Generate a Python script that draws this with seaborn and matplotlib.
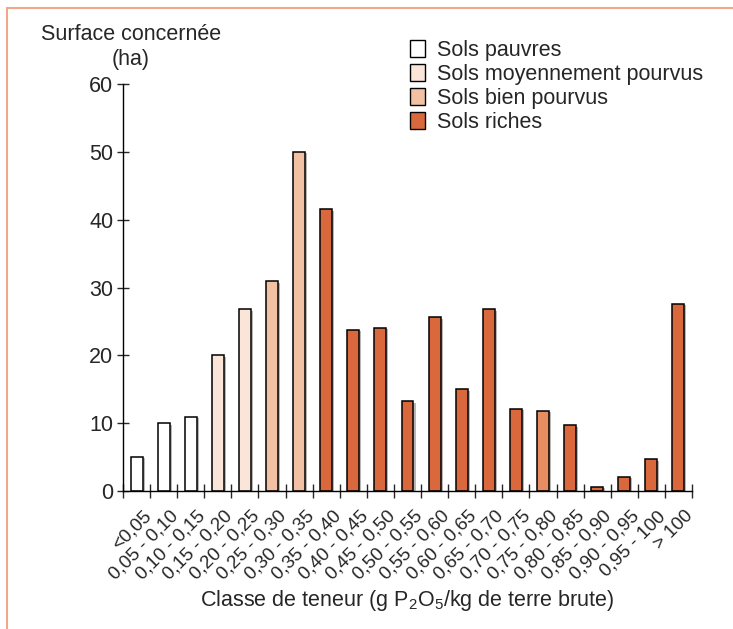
import matplotlib
matplotlib.use('Agg')
import matplotlib.pyplot as plt
import matplotlib.patheffects as pe
import matplotlib.transforms as mtransforms
from matplotlib.lines import Line2D
from matplotlib.patches import Patch
import pandas as pd
import seaborn as sns

# données
classes = ['<0,05', '0,05 - 0,10', '0,10 - 0,15', '0,15 - 0,20', '0,20 - 0,25',
           '0,25 - 0,30', '0,30 - 0,35', '0,35 - 0,40', '0,40 - 0,45', '0,45 - 0,50',
           '0,50 - 0,55', '0,55 - 0,60', '0,60 - 0,65', '0,65 - 0,70', '0,70 - 0,75',
           '0,75 - 0,80', '0,80 - 0,85', '0,85 - 0,90', '0,90 - 0,95', '0,95 - 100',
           '> 100']
surface = [5.0, 10.0, 10.9, 20.0, 26.8, 30.9, 50.0, 41.5, 23.8, 24.1, 13.2,
           25.6, 15.0, 26.8, 12.1, 11.8, 9.7, 0.6, 2.1, 4.7, 27.6]
niveau = ['Sols pauvres'] * 3 + ['Sols moyennement pourvus'] * 2 + \
         ['Sols bien pourvus'] * 2 + ['Sols riches'] * 14
niveaux = ['Sols pauvres', 'Sols moyennement pourvus', 'Sols bien pourvus', 'Sols riches']

couleurs = {'Sols pauvres': '#ffffff', 'Sols moyennement pourvus': '#fbe4d8',
            'Sols bien pourvus': '#f2c1a4', 'Sols riches': '#d9693d'}

df = pd.DataFrame({'classe': classes, 'surface': surface, 'niveau': niveau})

sns.set_style('white')
plt.rcParams['font.family'] = ['Liberation Sans', 'DejaVu Sans']
plt.rcParams['mathtext.fontset'] = 'custom'
plt.rcParams['mathtext.rm'] = 'Liberation Sans'

fig = plt.figure(figsize=(7.33, 6.29), dpi=100)
ax = fig.add_axes([123 / 733, 1 - 491 / 629, 569 / 733, 407 / 629])

sns.barplot(data=df, x='classe', y='surface', hue='niveau', hue_order=niveaux,
            palette=couleurs, saturation=1, dodge=False, width=0.44, edgecolor='black',
            linewidth=1.1, legend=False, ax=ax)

shadow = [pe.SimplePatchShadow(offset=(1.5, -1), shadow_rgbFace='#888888', alpha=0.6),
          pe.Normal()]
for p in ax.patches:
    p.set_path_effects(shadow)
    # la barre 0,75 - 0,80 est d'un orange plus clair
    if abs(p.get_x() + p.get_width() / 2 - 15) < 0.3:
        p.set_facecolor('#e68d62')

ax.set_xlim(-0.5, len(classes) - 0.5)
ax.set_ylim(0, 60)
ax.set_yticks(range(0, 61, 10))
ax.tick_params(axis='y', direction='inout', length=8, width=1, labelsize=15.5, pad=3, left=True)

ax.set_xticks([i - 0.5 for i in range(len(classes) + 1)])
ax.set_xticklabels([])
ax.set_xticks(range(len(classes)), minor=True)
ax.set_xticklabels(classes, minor=True, rotation=45, ha='right', va='top',
                   rotation_mode='anchor', fontsize=13.5)
ax.tick_params(axis='x', which='major', direction='inout', length=10, width=1, bottom=True)
ax.tick_params(axis='x', which='minor', length=0, pad=12)
decal = mtransforms.ScaledTranslation(6 / 100, 0, fig.dpi_scale_trans)
for lab in ax.get_xticklabels(minor=True):
    lab.set_transform(lab.get_transform() + decal)

for s in ['top', 'right']:
    ax.spines[s].set_visible(False)
for s in ['left', 'bottom']:
    ax.spines[s].set_color('black')
    ax.spines[s].set_linewidth(1)
ax.set_xlabel('Classe de teneur (g P$_2$O$_5$/kg de terre brute)', fontsize=15.5, labelpad=3)
ax.set_ylabel('')

fig.text(131 / 733, 1 - 47 / 629, 'Surface concernée\n(ha)', ha='center', va='center',
         multialignment='center', fontsize=15.5, linespacing=1.25)

handles = [Patch(facecolor=couleurs[n], edgecolor='black', linewidth=1) for n in niveaux]
fig.legend(handles, niveaux, loc='upper left', bbox_to_anchor=(410 / 733, 1 - 40 / 629),
           frameon=False, fontsize=15.5, handlelength=0.7, handleheight=0.85,
           handletextpad=0.55, labelspacing=0.14, borderaxespad=0, borderpad=0)

# cadre orange
fig.add_artist(Line2D([7 / 733, 1], [1 - 8 / 629, 1 - 8 / 629], color='#f0a888', lw=1.5))
fig.add_artist(Line2D([7 / 733, 7 / 733], [0, 1 - 8 / 629], color='#f0a888', lw=1.5))

fig.savefig('out.png', dpi=100)
